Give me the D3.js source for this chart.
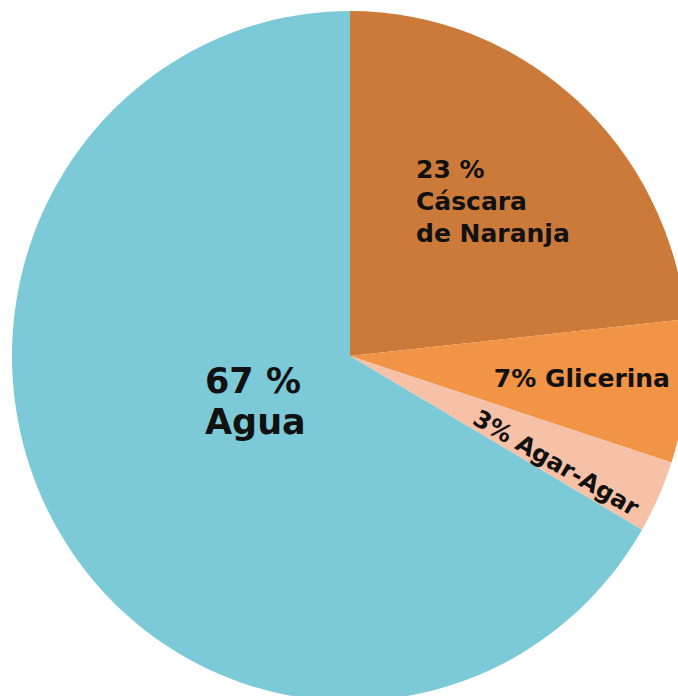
<!DOCTYPE html>
<html>
<head>
<meta charset="utf-8">
<script src="https://cdn.jsdelivr.net/npm/d3@7"></script>
<style>
  html, body { margin: 0; padding: 0; background: #fff; }
  svg { display: block; }
  text { font-family: "DejaVu Sans", sans-serif; font-weight: 700; fill: #111; }
</style>
</head>
<body>
<div id="chart"></div>
<script>
// pie slices, clockwise from 12 o'clock (sizes; labels are rounded)
var categories = ["Cáscara de Naranja", "Glicerina", "Agar-Agar", "Agua"];
var values = [23.3, 6.7, 3.4, 66.6];
var colors = ["#cc7a39", "#f19446", "#f7c1a7", "#7ccad7"];
var labels = [["23 %", "Cáscara", "de Naranja"], ["7% Glicerina"], ["3% Agar-Agar"], ["67 %", "Agua"]];

var w = 678, h = 696;
var cx = 350, cy = 356;
var r = 338;
var stretch = 345 / 338; // picture is a touch taller than wide

var svg = d3.select("#chart").append("svg")
  .attr("width", w)
  .attr("height", h);

var g = svg.append("g")
  .attr("transform", "translate(" + cx + "," + cy + ") scale(1," + stretch + ")");

var pie = d3.pie().sort(null).value(function(d) { return d; });
var arc = d3.arc().innerRadius(0).outerRadius(r);

var slices = pie(values);

g.selectAll("path")
  .data(slices)
  .enter()
  .append("path")
  .attr("d", arc)
  .attr("fill", function(d, i) { return colors[i]; });

// label layout (offsets from pie centre), kept apart from the data
var labelLayout = [
  {x: 66, y: -178, size: 25, lh: 32, rot: 0, anchor: "start"},
  {x: 320, y: 31, size: 25, lh: 0, rot: 0, anchor: "end"},
  {x: 202, y: 114, size: 24, lh: 0, rot: 30, anchor: "middle"},
  {x: -145, y: 37, size: 35, lh: 41, rot: 0, anchor: "start"}
];

var lab = svg.append("g")
  .attr("transform", "translate(" + cx + "," + cy + ")");

labels.forEach(function(lines, i) {
  var L = labelLayout[i];
  var t = lab.append("text")
    .attr("transform", "translate(" + L.x + "," + L.y + ") rotate(" + L.rot + ")")
    .attr("text-anchor", L.anchor)
    .style("font-size", L.size + "px");
  lines.forEach(function(s, j) {
    t.append("tspan")
      .attr("x", 0)
      .attr("y", j * L.lh)
      .text(s);
  });
});
</script>
</body>
</html>
